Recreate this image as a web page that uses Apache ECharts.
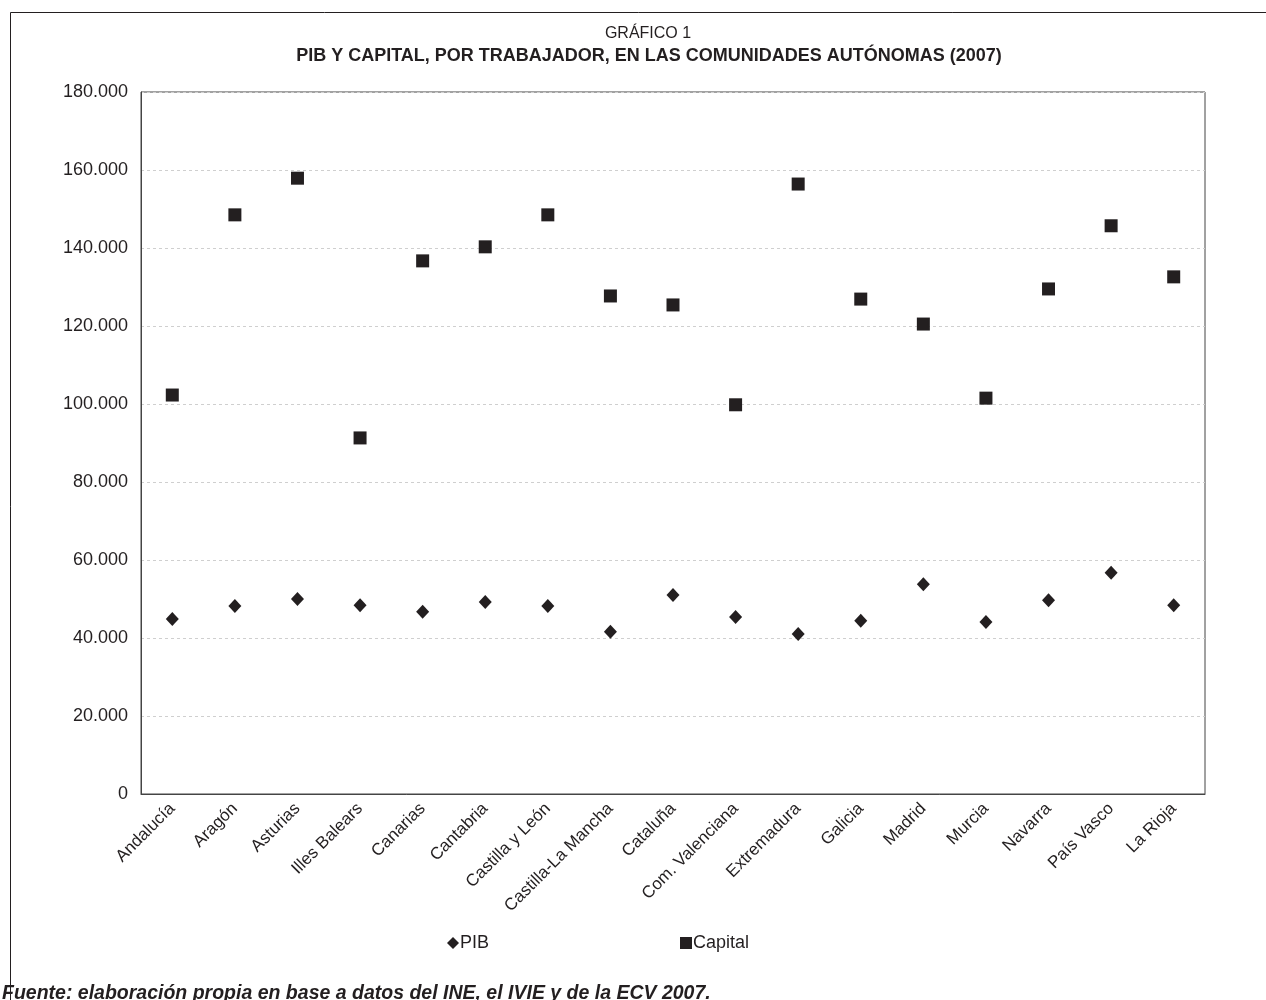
<!DOCTYPE html>
<html>
<head>
<meta charset="utf-8">
<script src="https://cdn.jsdelivr.net/npm/echarts@6/dist/echarts.min.js"></script>
<style>
html,body{margin:0;padding:0;background:#fff;}
#chart{width:1266px;height:1000px;}
</style>
</head>
<body>
<div id="chart"></div>
<script>
const categories = ["Andalucía","Aragón","Asturias","Illes Balears","Canarias","Cantabria","Castilla y León","Castilla-La Mancha","Cataluña","Com. Valenciana","Extremadura","Galicia","Madrid","Murcia","Navarra","País Vasco","La Rioja"];
const pib = [44900,48200,50000,48400,46700,49200,48200,41600,51000,45400,41000,44400,53800,44100,49700,56700,48400];
const capital = [102300,148500,157900,91300,136700,140300,148500,127700,125400,99800,156400,126900,120500,101500,129500,145700,132600];
const yTicks = [0,20000,40000,60000,80000,100000,120000,140000,160000,180000];

const font = "'Liberation Sans', Arial, Helvetica, sans-serif";
const chart = echarts.init(document.getElementById('chart'), null, {renderer:'canvas'});
function fmt(v){ return String(v).replace(/\B(?=(\d{3})+(?!\d))/g, '.'); }
chart.setOption({
  animation:false,
  backgroundColor:'#fff',
  textStyle:{fontFamily:font},
  title:[
    {text:'GRÁFICO 1', left:643, textAlign:'center', top:21, textStyle:{fontFamily:font, fontWeight:'normal', fontSize:16, color:'#231f20'}},
    {text:'PIB Y CAPITAL, POR TRABAJADOR, EN LAS COMUNIDADES AUTÓNOMAS (2007)', left:644, textAlign:'center', top:42, textStyle:{fontFamily:font, fontWeight:'bold', fontSize:18, color:'#231f20'}}
  ],
  grid:{left:141, right:61, top:92, bottom:206, show:true, borderColor:'#444', borderWidth:1},
  legend:{
    top:929, left:442, itemGap:191, itemWidth:12, itemHeight:12,
    textStyle:{fontFamily:font, fontSize:18, color:'#231f20', padding:[0,0,0,-4]},
    data:[{name:'PIB', icon:'diamond'},{name:'Capital', icon:'rect'}]
  },
  xAxis:{
    type:'category', data:categories, boundaryGap:true,
    axisLine:{lineStyle:{color:'#444'}},
    axisTick:{alignWithLabel:true, length:5, lineStyle:{color:'#444'}},
    axisLabel:{rotate:45, fontFamily:font, fontSize:17, color:'#231f20', margin:12, interval:0},
    splitLine:{show:false}
  },
  yAxis:{
    type:'value', min:0, max:180000, interval:20000,
    axisLine:{show:true, lineStyle:{color:'#444'}},
    axisTick:{show:false},
    axisLabel:{fontFamily:font, fontSize:18, color:'#231f20', margin:13, formatter:function(v){return fmt(v);}},
    splitLine:{show:true, lineStyle:{color:'#cfcfcf', type:[3,3], width:1}}
  },
  series:[
    {name:'PIB', type:'scatter', data:pib, symbol:'diamond', symbolSize:[13,14], itemStyle:{color:'#231f20', opacity:1}},
    {name:'Capital', type:'scatter', data:capital, symbol:'rect', symbolSize:13, itemStyle:{color:'#231f20', opacity:1}}
  ],
  graphic:[
    {type:'rect', shape:{x:10.5, y:12.5, width:1300, height:1100}, style:{fill:null, stroke:'#231f20', lineWidth:1}, silent:true},
    {type:'text', left:2, top:984, style:{text:'Fuente: elaboración propia en base a datos del INE, el IVIE y de la ECV 2007.', font:'italic bold 19.5px '+font, fill:'#231f20'}}
  ]
});
</script>
</body>
</html>
